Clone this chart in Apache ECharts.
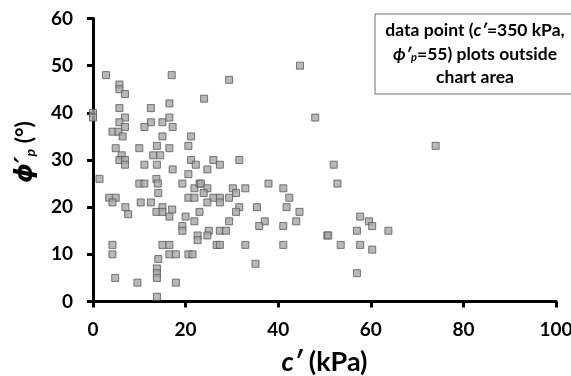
<!doctype html>
<html lang="en">
<head>
    <meta charset="UTF-8">
    <title>c' vs phi'p</title>
    <script src="https://cdn.jsdelivr.net/npm/echarts@6/dist/echarts.min.js"></script>
    <style>
        html, body { margin: 0; padding: 0; background: #fff; }
        #chart { width: 571px; height: 376px; }
    </style>
</head>
<body>
<div id="chart"></div>
<script type="text/javascript">
/* data */
let cValues = [
    0, 0, 2.8, 17, 5.7, 5.7, 6.9, 5.7, 12.5, 16.5,
    6.9, 5.7, 12.5, 15, 16.5, 4.2, 5.5, 6.9, 11.1, 17.2,
    6.4, 15, 21.2, 4.9, 6.2, 10, 13.8, 16.5, 20.6, 5.7,
    6.9, 13, 14.5, 21.2, 6.9, 11.1, 13.8, 17.2, 22.2, 20.6,
    1.4, 10, 11.1, 13.7, 14, 19.3, 21.9, 23, 14.1, 3.5,
    4.9, 4.2, 20.6, 21.9, 7, 7.6, 10.3, 12.5, 15, 17.1,
    13.7, 15, 16.5, 20, 21.9, 23, 19.3, 19.3, 22.6, 22.6,
    4.2, 4.2, 15, 16.5, 14.1, 16.5, 17.9, 20.6, 21.5, 13.8,
    13.8, 13.8, 4.8, 9.6, 17.9, 13.8, 44.7, 29.4, 24, 48,
    26, 31.6, 27.4, 24.7, 23.3, 24.7, 23.9, 30.2, 32.9, 30.9,
    37.9, 41.1, 42.4, 26, 27.4, 29.4, 24.7, 27.4, 31.6, 35.4,
    41.8, 44.6, 30.9, 29.4, 37.1, 35.9, 41.1, 43.9, 25, 27.4,
    28.7, 24.7, 50.6, 26.7, 27.4, 32.9, 41.1, 35.1, 74, 52,
    52.8, 57.7, 59.6, 60.3, 57, 63.8, 50.8, 53.5, 57.7, 60.3,
    57
];
let phiValues = [
    40, 39, 48, 48, 46, 45, 44, 41, 41, 42,
    39, 38, 38, 38, 39, 36, 36, 37, 37, 37,
    35, 35, 35, 32.5, 31, 32.5, 33, 32.5, 33, 30,
    30, 31, 31, 30, 29, 29, 29, 28, 29, 27,
    26, 25, 25, 26, 25, 25, 24, 25, 23, 22,
    22, 21, 22, 22, 20, 18.5, 21, 21, 20, 19.5,
    19, 19, 18, 18, 17, 19, 16, 15, 14, 13,
    12, 10, 12, 12, 9, 10, 10, 10, 10, 7,
    6, 5, 5, 4, 4, 1, 50, 47, 43, 39,
    30, 30, 29, 28, 25, 24, 23, 24, 24, 23,
    25, 24, 22, 22, 22, 22, 21, 21, 20, 20,
    20, 19, 19, 17, 17, 16, 16, 17, 15, 15,
    15, 14, 14, 12, 12, 12, 12, 8, 33, 29,
    25, 18, 17, 16, 15, 15, 14, 12, 12, 11,
    6
];
let xTicks = [0, 20, 40, 60, 80, 100];
let yTicks = [0, 10, 20, 30, 40, 50, 60];

let points = cValues.map(function (c, i) { return [c, phiValues[i]]; });

let chart = echarts.init(document.getElementById('chart'));

let labelFont = { fontFamily: 'Lato', fontWeight: 'bold', color: '#000' };

let option = {
    animation: false,
    grid: { left: 93, right: 15, top: 18.5, bottom: 74.5, outerBoundsMode: 'none' },
    xAxis: {
        type: 'value',
        min: xTicks[0],
        max: xTicks[xTicks.length - 1],
        interval: 20,
        splitLine: { show: false },
        axisLine: { onZero: false, lineStyle: { color: '#000', width: 3 } },
        axisTick: { show: true, length: 6, lineStyle: { color: '#000', width: 3 } },
        axisLabel: Object.assign({ fontSize: 19, margin: 19 }, labelFont),
        name: '{i|c\u2032}{n| (kPa)}',
        nameLocation: 'middle',
        nameGap: 47,
        nameTextStyle: {
            rich: {
                i: { fontFamily: 'Lato', fontWeight: 'bold', fontStyle: 'italic', fontSize: 27, color: '#000' },
                n: { fontFamily: 'Lato', fontWeight: 'bold', fontSize: 27, color: '#000' }
            }
        }
    },
    yAxis: {
        type: 'value',
        min: yTicks[0],
        max: yTicks[yTicks.length - 1],
        interval: 10,
        splitLine: { show: false },
        axisLine: { onZero: false, lineStyle: { color: '#000', width: 3 } },
        axisTick: { show: true, length: 6, lineStyle: { color: '#000', width: 3 } },
        axisLabel: Object.assign({ fontSize: 19, margin: 20 }, labelFont)
    },
    graphic: [
        {
            type: 'text',
            x: 25,
            y: 152,
            rotation: Math.PI / 2,
            style: {
                text: '{i|\u03D5\u2032}{s|p}{n| (\u00B0)}',
                align: 'center',
                verticalAlign: 'middle',
                rich: {
                    i: { fontFamily: 'DejaVu Sans', fontWeight: 'bold', fontStyle: 'italic', fontSize: 25, fill: '#000' },
                    s: { fontFamily: 'Lato', fontWeight: 'bold', fontStyle: 'italic', fontSize: 14, fill: '#000', padding: [10, 0, 0, 0] },
                    n: { fontFamily: 'Lato', fontWeight: 'bold', fontSize: 23, fill: '#000' }
                }
            }
        },
        {
            type: 'rect',
            shape: { x: 375, y: 14, width: 200, height: 80 },
            style: { fill: '#fff', stroke: '#707070', lineWidth: 1 }
        },
        {
            type: 'text',
            x: 475,
            y: 54,
            style: {
                text: '{n|data point (}{i|c\u2032}{n|=350 kPa,}\n{i|\u03D5\u2032}{s|p}{n|=55) plots outside}\n{n|chart area}',
                align: 'center',
                verticalAlign: 'middle',
                lineHeight: 23.5,
                rich: {
                    n: { fontFamily: 'Lato', fontWeight: 'bold', fontSize: 17.5, fill: '#000', lineHeight: 23.5 },
                    i: { fontFamily: 'Lato', fontWeight: 'bold', fontStyle: 'italic', fontSize: 17.5, fill: '#000', lineHeight: 23.5 },
                    s: { fontFamily: 'Lato', fontWeight: 'bold', fontStyle: 'italic', fontSize: 11, fill: '#000', lineHeight: 23.5, padding: [7, 0, 0, 0] }
                }
            }
        }
    ],
    series: [
        {
            type: 'scatter',
            symbol: 'rect',
            symbolSize: 7,
            data: points,
            itemStyle: { color: '#a6a6a6', borderColor: '#595959', borderWidth: 1 }
        }
    ]
};
chart.setOption(option);
</script>
</body>
</html>
